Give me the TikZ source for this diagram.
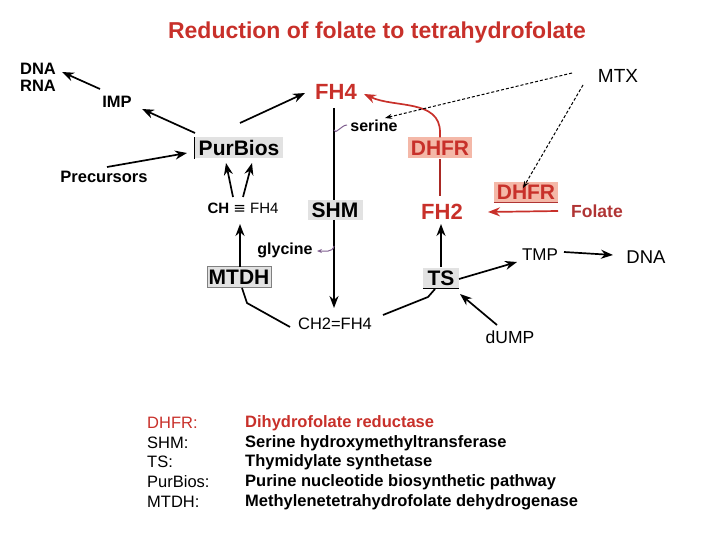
\documentclass[tikz,border=0pt]{standalone}
\usepackage{fontspec}
\setmainfont{Liberation Sans}
\newfontfamily\dejavu{DejaVu Sans}
\usetikzlibrary{arrows.meta,calc}
\definecolor{tred}{HTML}{C8302A}
\definecolor{fred}{HTML}{B03434}
\definecolor{salmon}{HTML}{F4B8A8}
\definecolor{boxgray}{HTML}{E2E2E2}
\definecolor{purp}{HTML}{806090}
\newcommand\fs[1]{\fontsize{#1}{#1}\selectfont}
\tikzset{
  lbl/.style={inner sep=0pt,font=\fs{16.5}\bfseries},
  lblr/.style={inner sep=0pt,font=\fs{17}},
  enz/.style={fill=boxgray,minimum height=21pt,inner sep=0pt,font=\fs{21}\bfseries},
  redenz/.style={enz,fill=salmon,text=tred},
  big/.style={inner sep=0pt,font=\fs{22}\bfseries,text=tred},
  arr/.style={line width=1.7pt,-{Stealth[length=12pt,width=9pt]}},
  redarr/.style={arr,draw=tred},
  dashedarr/.style={line width=1pt,dash pattern=on 3pt off 2pt,-{Stealth[length=7pt,width=5pt]}},
  leg/.style={anchor=west,inner sep=0pt,font=\fs{16.5}},
  legb/.style={leg,font=\fs{16.5}\bfseries},
}
\begin{document}
\begin{tikzpicture}[x=1pt,y=-1pt]
\useasboundingbox (0,0) rectangle (720,540);
% title
\node[inner sep=0pt,font=\fs{23}\bfseries,text=tred] (title) at (377,33) {Reduction of folate to tetrahydrofolate};
% nodes
\node[lbl,align=left,font=\fontsize{16.5}{17}\selectfont\bfseries] (dnarna) at (38,77) {DNA\\RNA};
\node[lbl] (imp) at (117,102) {IMP};
\node[enz,minimum width=88pt] (purbios) at (239,148) {PurBios};
\node[lbl] (prec) at (104,177) {Precursors};
\node[lbl,font=\fs{15}\bfseries] (chfh4) at (243,208) {CH {\dejavu\mdseries ≡} \mdseries FH4};
\node[enz,minimum width=64pt,draw=gray,line width=0.6pt] (mtdh) at (239,277) {MTDH};
\node[big] (fh4) at (336,92) {FH4};
\node[enz,minimum width=55pt,minimum height=20pt] (shm) at (335,210) {SHM};
\node[inner sep=0pt,font=\fs{16}\bfseries] (serine) at (374,126) {serine};
\node[inner sep=0pt,font=\fs{16}\bfseries] (glycine) at (285,250) {glycine};
\node[lblr,font=\fs{16.5}] (ch2) at (335,324) {CH2=FH4};
\node[redenz,minimum width=64pt] (dhfra) at (440,148) {DHFR};
\node[big] (fh2) at (442,212) {FH2};
\node[redenz,minimum width=64pt,minimum height=20pt] (dhfrb) at (526,192) {DHFR};
\node[inner sep=0pt,font=\fs{17.5}\bfseries,text=fred] (folate) at (597,211) {Folate};
\node[lblr,font=\fs{19}] (mtx) at (618,76) {MTX};
\node[enz,minimum width=36pt] (ts) at (441,278) {TS};
\node[lblr] (tmp) at (540,255) {TMP};
\node[lblr,font=\fs{18.5}] (dnar) at (646,257) {DNA};
\node[lblr,font=\fs{17.5}] (dump) at (510,337) {dUMP};
% box edges
\draw[line width=1pt] (purbios.north west) -- (purbios.south west);
\draw[line width=1pt,draw=fred] (dhfrb.south west) -- (dhfrb.south east);
\draw[line width=0.8pt] (ts.south west) -- (ts.south east);
% black connectors
\draw[arr] ($(imp)+(-17,-13)$) -- ($(dnarna)+(24,-5)$);
\draw[arr] ($(purbios)+(-44,-15)$) -- ($(imp)+(25,7)$);
\draw[arr] ($(purbios)+(1,-25)$) -- ($(fh4)+(-31,1)$);
\draw[arr] ($(prec)+(3,-10)$) -- ($(purbios)+(-52,5)$);
\draw[arr] ($(chfh4)+(-10,-11)$) -- ($(purbios)+(-13,15)$);
\draw[arr] ($(chfh4)+(0,-11)$) -- ($(purbios)+(13,15)$);
\draw[arr] ($(mtdh)+(1,-10)$) -- ($(chfh4)+(-3,16)$);
\draw[line width=1.7pt] ($(mtdh)+(3,11)$) -- (247,303) -- ($(ch2)+(-45,3)$);
\draw[line width=1.7pt] ($(fh4)+(-2,16)$) -- ($(shm)+(-1,-10)$);
\draw[arr] ($(shm)+(-1,10)$) -- ($(ch2)+(-1,-16)$);
\draw[arr] ($(ts)+(0,-11)$) -- ($(fh2)+(-1,12)$);
\draw[line width=1.7pt] ($(ts)+(-6,11)$) -- (428,297) -- ($(ch2)+(48,-9)$);
\draw[arr] ($(ts)+(18,1)$) -- ($(tmp)+(-23,7)$);
\draw[arr] ($(tmp)+(24,-3)$) -- ($(dnar)+(-33,-2)$);
\draw[arr] ($(dump)+(-13,-12)$) -- ($(ts)+(19,16)$);
% red connectors
\draw[line width=1.7pt,draw=tred!85!black] ($(fh2)+(-2,-16)$) -- (dhfra.south);
\draw[redarr] (dhfra.north) -- ++(0,-5) to[out=90,in=-25] ($(fh4)+(28,2)$);
\draw[redarr] ($(folate)+(-39,0)$) -- ($(fh2)+(46,0)$);
% purple hooks
\draw[purp,line width=1pt] ($(fh4)+(-2,38)$) to[out=-80,in=180] ($(serine)+(-27,-1)$);
\draw[purp,line width=1pt,-{Stealth[length=5pt,width=4pt]}] ($(shm)+(-1,36)$) to[out=-100,in=0] ($(glycine)+(32,1)$);
% dashed MTX
\draw[dashedarr] ($(mtx)+(-46,-3)$) -- ($(serine)+(11,-8)$);
\draw[dashedarr] ($(mtx)+(-35,9)$) -- ($(dhfrb)+(-3,-4)$);
% legend
\node[leg,text=tred] (l1) at (147,423) {DHFR:};
\node[leg] (l2) at (147,443) {SHM:};
\node[leg] (l3) at (147,462) {TS:};
\node[leg] (l4) at (147,482) {PurBios:};
\node[leg] (l5) at (147,502) {MTDH:};
\node[legb,text=tred] (r1) at (245,423) {Dihydrofolate reductase};
\node[legb] (r2) at (245,443) {Serine hydroxymethyltransferase};
\node[legb] (r3) at (245,462) {Thymidylate synthetase};
\node[legb] (r4) at (245,482) {Purine nucleotide biosynthetic pathway};
\node[legb] (r5) at (245,502) {Methylenetetrahydrofolate dehydrogenase};
\end{tikzpicture}
\end{document}
